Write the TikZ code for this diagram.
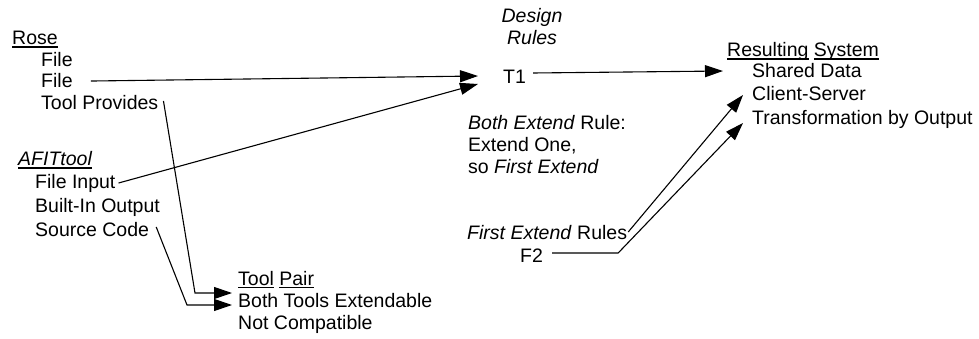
\documentclass[tikz,border=0pt]{standalone}
\usepackage{fontspec}
\setmainfont{Liberation Sans}
\usetikzlibrary{arrows.meta}
\newcommand\myul[1]{\setbox0\hbox{#1}\rlap{\rule[-2.6pt]{\wd0}{1.1pt}}\box0\relax}
\tikzset{
  txt/.style={anchor=base west, inner sep=0pt, font=\fontsize{19.5}{22}\selectfont},
  ctxt/.style={anchor=base, inner sep=0pt, font=\fontsize{19.5}{22}\selectfont\itshape},
  arr/.style={line width=1.1pt, -{Triangle[length=18pt,width=12pt]}}
}
\begin{document}
\begin{tikzpicture}[x=1pt,y=-1pt]
\useasboundingbox (0,0) rectangle (979,339);
% left column: Rose
\node[txt] (rose) at (12,45) {\myul{Rose}};
\node[txt] (file1) at (41,67) {File};
\node[txt] (file2) at (41,88) {File};
\node[txt] (toolprov) at (41,110) {Tool Provides};
% AFITtool
\node[txt] (afit) at (18,166) {\myul{\itshape AFITtool}};
\node[txt] (fileinput) at (35,189) {File Input};
\node[txt] (builtin) at (35,212) {Built-In Output};
\node[txt] (srccode) at (35,236) {Source Code};
% Tool pair
\node[txt] (toolpair) at (238,285) {\myul{Tool} \myul{Pair}};
\node[txt] (both) at (238,307) {Both Tools Extendable};
\node[txt] (notcomp) at (238,329) {Not Compatible};
% Design rules
\node[ctxt] (design) at (532,23) {Design};
\node[ctxt] (rules) at (532,45) {Rules};
\node[txt] (t1) at (503,84) {T1};
\node[txt] (ber) at (468,130) {\textit{Both Extend} Rule:};
\node[txt] (extone) at (468,152) {Extend One,};
\node[txt] (sofirst) at (468,174) {so \textit{First Extend}};
\node[txt] (fer) at (467,239) {\textit{First Extend} Rules};
\node[txt] (f2) at (520,262) {F2};
% Resulting system
\node[txt] (ressys) at (727,57) {\myul{Resulting} \myul{System}};
\node[txt] (shared) at (752,78) {Shared Data};
\node[txt] (cs) at (752,101) {Client-Server};
\node[txt] (trans) at (752,125) {Transformation by Output};
% connectors
\draw[arr] ([shift={(18,0)}]file2.east) -- ([shift={(-25,-8)}]t1.base west);
\draw[arr] ([shift={(3,-6)}]fileinput.base east) -- ([shift={(-25,0)}]t1.base west);
\draw[arr] ([shift={(5,-9)}]toolprov.base east) -- ([shift={(-43,-14)}]both.base west) -- ([shift={(-6,-14)}]both.base west);
\draw[arr] ([shift={(7,-9)}]srccode.base east) -- ([shift={(-51,-2)}]both.base west) -- ([shift={(-6,-2)}]both.base west);
\draw[arr] ([shift={(7,-11)}]t1.base east) -- ([shift={(-29,-7)}]shared.base west);
\draw[arr] ([shift={(1,-7)}]fer.base east) -- ([shift={(-9,-6)}]cs.base west);
\draw[arr] ([shift={(9,-9)}]f2.base east) -- ([shift={(75,-9)}]f2.base east) -- ([shift={(-9,-2)}]trans.base west);
\end{tikzpicture}
\end{document}
